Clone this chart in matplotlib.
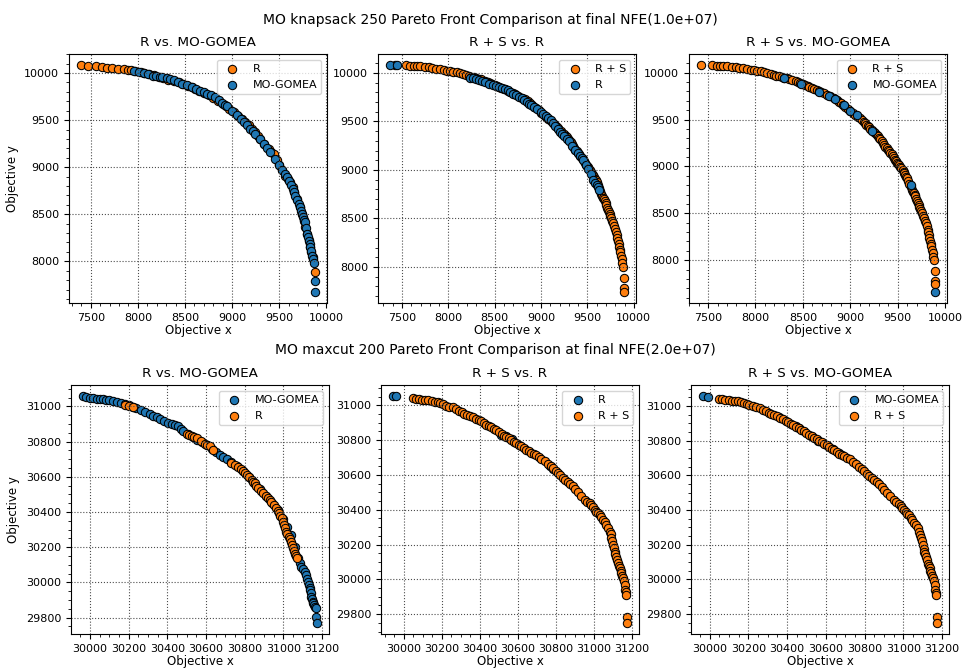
import matplotlib
matplotlib.use("Agg")
import matplotlib.pyplot as plt

BLUE = "#1f77b4"
ORANGE = "#ff7f0e"

plt.rcParams.update({
    "xtick.labelsize": 8,
    "ytick.labelsize": 8,
    "axes.labelsize": 8.5,
    "axes.titlesize": 9.7,
    "legend.fontsize": 8,
})

# ---------------- MO knapsack 250 fronts ----------------
kp_rs_x = [7423, 7539, 7590, 7626, 7660, 7697, 7749, 7790, 7826, 7872, 7914, 7950, 7984,
           8020, 8054, 8090, 8125, 8160, 8195, 8220, 8247, 8275, 8300, 8330, 8353, 8390,
           8423, 8450, 8475, 8500, 8528, 8550, 8570, 8595, 8616, 8645, 8670, 8695, 8721,
           8755, 8790, 8825, 8862, 8885, 8905, 8928, 8949, 8975, 9000, 9028, 9054, 9078,
           9100, 9122, 9142, 9160, 9170, 9185, 9195, 9212, 9230, 9248, 9265, 9280, 9290,
           9305, 9318, 9332, 9345, 9358, 9370, 9385, 9400, 9412, 9423, 9438, 9450, 9463,
           9476, 9485, 9495, 9503, 9511, 9525, 9540, 9552, 9563, 9572, 9580, 9590, 9598,
           9612, 9625, 9638, 9651, 9660, 9670, 9678, 9686, 9695, 9705, 9713, 9721, 9730,
           9740, 9748, 9756, 9765, 9774, 9785, 9798, 9806, 9816, 9820, 9826, 9835, 9844,
           9850, 9855, 9862, 9868, 9876, 9886, 9890, 9893, 9897]
kp_rs_y = [10078, 10078, 10074, 10071, 10069, 10067, 10060, 10057, 10053, 10046, 10039,
           10032, 10025, 10020, 10014, 10005, 9996, 9986, 9975, 9968, 9961, 9954, 9947,
           9940, 9933, 9922, 9912, 9900, 9889, 9877, 9865, 9857, 9848, 9838, 9830, 9818,
           9808, 9796, 9784, 9765, 9746, 9728, 9706, 9690, 9672, 9654, 9635, 9614, 9592,
           9570, 9547, 9530, 9512, 9494, 9476, 9458, 9446, 9430, 9416, 9400, 9385, 9368,
           9352, 9335, 9320, 9305, 9288, 9270, 9250, 9230, 9211, 9196, 9180, 9163, 9147,
           9128, 9108, 9090, 9069, 9055, 9040, 9028, 9016, 8998, 8980, 8962, 8945, 8928,
           8910, 8892, 8874, 8843, 8812, 8780, 8750, 8732, 8715, 8698, 8680, 8658, 8635,
           8612, 8591, 8570, 8547, 8525, 8503, 8476, 8449, 8420, 8396, 8360, 8326, 8300,
           8272, 8240, 8202, 8175, 8149, 8110, 8078, 8040, 8000, 7890, 7780, 7745]

kp_r1_x = [7394, 7472, 7553, 7616, 7676, 7729, 7793, 7853, 7890, 7923, 7970, 8029, 8070,
           8117, 8170, 8223, 8270, 8320, 8380, 8435, 8480, 8530, 8570, 8604, 8650, 8700,
           8750, 8800, 8850, 8900, 8930, 8964, 9017, 9060, 9100, 9140, 9175, 9210, 9240,
           9270, 9299, 9340, 9387, 9415, 9440, 9470, 9500, 9530, 9563, 9590, 9616, 9640,
           9660, 9687, 9715, 9740, 9760, 9775, 9795, 9810, 9828, 9840, 9852, 9874]
kp_r1_y = [10082, 10078, 10071, 10064, 10057, 10053, 10046, 10043, 10035, 10028, 10020,
           10011, 10003, 9993, 9975, 9957, 9945, 9930, 9915, 9904, 9885, 9866, 9850, 9833,
           9812, 9790, 9765, 9740, 9708, 9670, 9645, 9621, 9585, 9545, 9510, 9475, 9443,
           9405, 9370, 9335, 9301, 9250, 9195, 9165, 9142, 9080, 9020, 8970, 8911, 8875,
           8840, 8790, 8740, 8663, 8580, 8504, 8430, 8362, 8290, 8230, 8149, 8100, 8043,
           7883]

kp_mg1_x = [7958, 8010, 8060, 8110, 8160, 8195, 8230, 8260, 8311, 8345, 8382, 8425, 8470,
            8520, 8576, 8620, 8664, 8700, 8734, 8780, 8823, 8860, 8893, 8920, 8946, 9000,
            9052, 9090, 9122, 9160, 9193, 9220, 9246, 9290, 9334, 9370, 9405, 9450, 9493,
            9530, 9563, 9580, 9599, 9620, 9641, 9655, 9669, 9688, 9704, 9718, 9732, 9742,
            9750, 9760, 9768, 9778, 9789, 9800, 9810, 9820, 9828, 9838, 9846, 9858, 9870,
            9874, 9881]
kp_mg1_y = [10021, 10010, 10000, 9985, 9972, 9965, 9960, 9955, 9950, 9936, 9922, 9905,
            9887, 9868, 9851, 9830, 9809, 9795, 9780, 9763, 9745, 9712, 9681, 9663, 9645,
            9598, 9550, 9514, 9479, 9443, 9408, 9382, 9355, 9300, 9248, 9205, 9160, 9090,
            9018, 8975, 8929, 8893, 8858, 8815, 8770, 8735, 8698, 8655, 8610, 8575, 8539,
            8505, 8468, 8440, 8415, 8350, 8291, 8255, 8220, 8185, 8149, 8105, 8060, 8020,
            7979, 7794, 7677]

kp_r2_x = [7368, 7447, 8230, 8265, 8301, 8330, 8360, 8400, 8443, 8480, 8514, 8545, 8580,
           8610, 8639, 8665, 8692, 8730, 8763, 8790, 8820, 8845, 8870, 8895, 8924, 8960,
           8995, 9020, 9050, 9075, 9102, 9130, 9155, 9180, 9208, 9230, 9250, 9275, 9297,
           9330, 9368, 9395, 9420, 9440, 9457, 9485, 9511, 9540, 9564, 9582, 9600, 9615,
           9628]
kp_r2_y = [10079, 10079, 9952, 9947, 9942, 9932, 9920, 9905, 9890, 9878, 9866, 9855, 9842,
           9832, 9821, 9805, 9787, 9770, 9753, 9737, 9720, 9702, 9684, 9668, 9650, 9625,
           9598, 9578, 9556, 9538, 9519, 9485, 9450, 9420, 9392, 9370, 9350, 9323, 9299,
           9252, 9203, 9170, 9140, 9120, 9100, 9055, 9014, 8955, 8894, 8868, 8842, 8820,
           8797]

kp_mg3_x = [8300, 8476, 8669, 8774, 8844, 8932, 9002, 9072, 9230, 9644, 9890]
kp_mg3_y = [9947, 9883, 9795, 9749, 9724, 9653, 9593, 9547, 9381, 8803, 7665]

# ---------------- MO maxcut 200 fronts ----------------
mc_rs_x = [30047, 30065, 30082, 30098, 30114, 30130, 30147, 30163, 30179, 30192, 30205,
           30223, 30240, 30258, 30275, 30293, 30306, 30319, 30332, 30346, 30364, 30381,
           30394, 30407, 30420, 30433, 30447, 30460, 30473, 30486, 30500, 30515, 30528,
           30540, 30552, 30565, 30578, 30591, 30604, 30617, 30630, 30644, 30657, 30670,
           30683, 30696, 30710, 30723, 30740, 30758, 30772, 30785, 30798, 30810, 30823,
           30837, 30850, 30863, 30876, 30889, 30902, 30916, 30933, 30951, 30964, 30977,
           30986, 30995, 31004, 31012, 31021, 31030, 31038, 31047, 31056, 31065, 31074,
           31082, 31087, 31091, 31095, 31100, 31105, 31109, 31113, 31117, 31122, 31126,
           31131, 31135, 31140, 31144, 31148, 31152, 31157, 31161, 31161, 31166, 31170,
           31173, 31175]
mc_rs_y = [31042, 31039, 31036, 31033, 31031, 31029, 31027, 31022, 31017, 31012, 31008,
           30998, 30993, 30988, 30978, 30969, 30960, 30952, 30947, 30941, 30932, 30923,
           30915, 30908, 30898, 30889, 30881, 30873, 30864, 30856, 30846, 30835, 30826,
           30818, 30810, 30801, 30792, 30783, 30773, 30764, 30754, 30745, 30735, 30726,
           30719, 30712, 30702, 30693, 30678, 30664, 30651, 30638, 30624, 30610, 30597,
           30585, 30573, 30562, 30548, 30534, 30518, 30501, 30480, 30457, 30447, 30438,
           30425, 30413, 30401, 30390, 30380, 30371, 30356, 30342, 30327, 30313, 30294,
           30275, 30258, 30240, 30220, 30198, 30178, 30159, 30145, 30131, 30112, 30092,
           30078, 30064, 30050, 30035, 30022, 30010, 29990, 29968, 29939, 29925, 29910,
           29781, 29751]

mc_mg1_x = [29962, 29981, 30000, 30017, 30034, 30052, 30069, 30084, 30098, 30118, 30138,
            30160, 30180, 30200, 30220, 30240, 30263, 30285, 30310, 30327, 30344, 30364,
            30384, 30403, 30422, 30438, 30453, 30468, 30482, 30505, 30530, 30555, 30580,
            30605, 30630, 30650, 30671, 30688, 30706, 30730, 30760, 30790, 30820, 30850,
            30880, 30910, 30940, 30970, 31000, 31020, 31040, 31058, 31076, 31085, 31093,
            31102, 31110, 31117, 31124, 31128, 31131, 31135, 31139, 31142, 31144, 31148,
            31151, 31155, 31158, 31165, 31170, 31170, 31175]
mc_mg1_y = [31057, 31052, 31047, 31046, 31044, 31042, 31040, 31038, 31036, 31031, 31025,
            31018, 31012, 31005, 30998, 30990, 30981, 30968, 30956, 30947, 30937, 30926,
            30915, 30907, 30899, 30893, 30886, 30872, 30858, 30842, 30825, 30810, 30795,
            30778, 30760, 30740, 30721, 30712, 30702, 30682, 30660, 30630, 30598, 30565,
            30530, 30492, 30450, 30410, 30360, 30315, 30270, 30200, 30136, 30110, 30088,
            30074, 30060, 30040, 30022, 30003, 29984, 29970, 29956, 29937, 29918, 29903,
            29889, 29880, 29870, 29862, 29855, 29804, 29771]

mc_r1_x = [30181, 30200, 30224, 30499, 30512, 30525, 30538, 30551, 30572, 30594, 30607,
           30620, 30637, 30731, 30748, 30766, 30779, 30792, 30800, 30809, 30822, 30835,
           30843, 30852, 30860, 30869, 30882, 30895, 30908, 30921, 30930, 30938, 30951,
           30964, 30970, 30976, 30983, 30990, 30997, 31003, 31009, 31015, 31021, 31027,
           31033, 31038, 31044, 31050, 31056, 31062, 31067, 31072]
mc_r1_y = [31006, 31000, 30994, 30842, 30837, 30832, 30828, 30823, 30804, 30785, 30778,
           30772, 30753, 30677, 30667, 30658, 30644, 30630, 30620, 30611, 30596, 30582,
           30572, 30563, 30549, 30535, 30520, 30506, 30492, 30478, 30466, 30455, 30438,
           30421, 30406, 30392, 30378, 30364, 30345, 30326, 30307, 30288, 30273, 30259,
           30245, 30231, 30212, 30193, 30178, 30164, 30150, 30136]

mc_r2_x = [29942, 29960, 30512, 30538, 30568, 30767, 30784]
mc_r2_y = [31052, 31052, 30831, 30822, 30806, 30649, 30635]

mc_mg3_x = [29965, 29991, 30361, 30444, 30462, 30522, 30562, 30609, 30635, 30669]
mc_mg3_y = [31056, 31050, 30935, 30883, 30873, 30826, 30797, 30768, 30753, 30730]

row_titles = [
    "MO knapsack 250 Pareto Front Comparison at final NFE(1.0e+07)",
    "MO maxcut 200 Pareto Front Comparison at final NFE(2.0e+07)",
]

# each panel: title, then two (label, x, y, colour) series in drawing order
panels = [
    [("R vs. MO-GOMEA", ("R", kp_r1_x, kp_r1_y, ORANGE), ("MO-GOMEA", kp_mg1_x, kp_mg1_y, BLUE)),
     ("R + S vs. R", ("R + S", kp_rs_x, kp_rs_y, ORANGE), ("R", kp_r2_x, kp_r2_y, BLUE)),
     ("R + S vs. MO-GOMEA", ("R + S", kp_rs_x, kp_rs_y, ORANGE), ("MO-GOMEA", kp_mg3_x, kp_mg3_y, BLUE))],
    [("R vs. MO-GOMEA", ("MO-GOMEA", mc_mg1_x, mc_mg1_y, BLUE), ("R", mc_r1_x, mc_r1_y, ORANGE)),
     ("R + S vs. R", ("R", mc_r2_x, mc_r2_y, BLUE), ("R + S", mc_rs_x, mc_rs_y, ORANGE)),
     ("R + S vs. MO-GOMEA", ("MO-GOMEA", mc_mg3_x, mc_mg3_y, BLUE), ("R + S", mc_rs_x, mc_rs_y, ORANGE))],
]

W, H = 967, 668
fig = plt.figure(figsize=(W / 100, H / 100), dpi=100)

row_lefts = [[69, 378, 689], [71, 381, 691]]
row_bottoms = [303, 634]
ax_w, ax_h = 258, 249
title_pos = [(490, 20), (495, 350)]

for r in range(2):
    fig.text(title_pos[r][0] / W, 1 - title_pos[r][1] / H, row_titles[r],
             ha="center", va="center", fontsize=10)
    for c in range(3):
        ax = fig.add_axes([row_lefts[r][c] / W, 1 - row_bottoms[r] / H, ax_w / W, ax_h / H])
        title, s1, s2 = panels[r][c]
        for label, xs, ys, col in (s1, s2):
            ax.scatter(xs, ys, s=36, c=col, edgecolors="black", linewidths=0.75, label=label)
        ax.set_title(title)
        ax.set_xlabel("Objective x", labelpad=1)
        if c == 0:
            ax.set_ylabel("Objective y")
        ax.minorticks_on()
        ax.grid(True, which="major", linestyle=":", color="0.3", linewidth=0.8)
        ax.legend(loc="upper right")

fig.savefig("out.png", dpi=100)
